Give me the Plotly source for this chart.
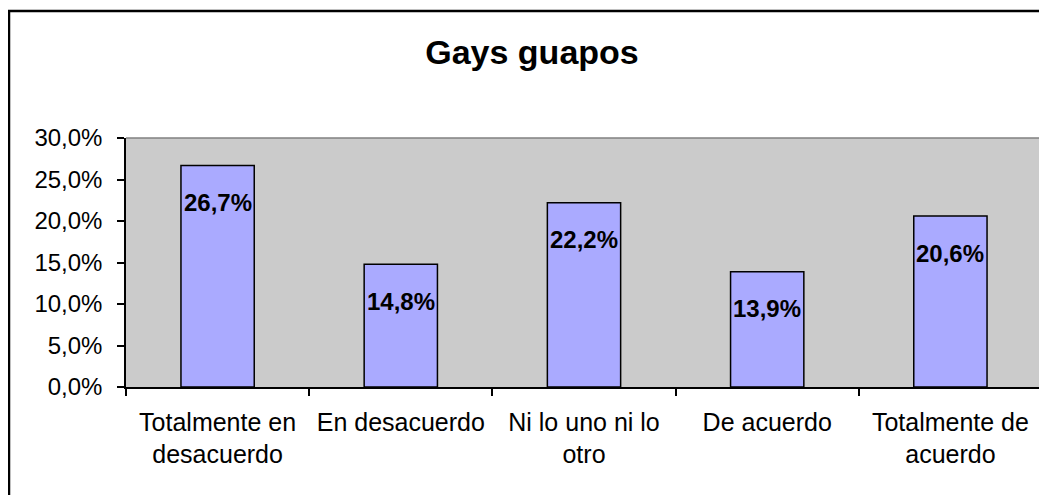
import plotly.graph_objects as go

categories = ["Totalmente en<br>desacuerdo", "En desacuerdo", "Ni lo uno ni lo<br>otro",
              "De acuerdo", "Totalmente de<br>acuerdo"]
values = [0.267, 0.148, 0.222, 0.139, 0.206]
title_text = "Gays guapos"

W, H = 1039, 487  # page body has an 8px default margin

fig = go.Figure()
fig.add_trace(go.Bar(
    x=categories, y=values,
    marker=dict(color="#AAAAFF", line=dict(color="#000000", width=1.5)),
    hoverinfo="skip",
))

for c, v in zip(categories, values):
    fig.add_annotation(
        x=c, y=v, xref="x", yref="y",
        text="<b>" + f"{v*100:.1f}".replace(".", ",") + "%</b>",
        showarrow=False, yshift=-37,
        font=dict(family="Liberation Sans Narrow, Arial Narrow, Liberation Sans", size=24, color="#000000"),
    )

# outer chart border
fig.add_shape(type="rect", xref="paper", yref="paper",
              x0=(1 - 118) / 916, x1=1.03, y0=-0.6, y1=(379 - 3) / 249,
              line=dict(color="#000000", width=2.5), layer="below")

fig.update_layout(
    width=W, height=H,
    margin=dict(l=118, r=5, t=130, b=108),
    paper_bgcolor="#FFFFFF",
    plot_bgcolor="#CBCBCB",
    separators=",.",
    bargap=0.6,
    showlegend=False,
    font=dict(family="Liberation Sans, Arial", color="#000000"),
    title=dict(text="<b>" + title_text + "</b>", x=524 / W, xanchor="center",
               y=1 - 44 / H, yanchor="middle", xref="container", yref="container",
               font=dict(size=34, family="Liberation Sans, Arial", color="#000000")),
    xaxis=dict(
        showline=True, linecolor="#000000", linewidth=1.5, mirror=False,
        ticks="outside", ticklen=7, tickwidth=1.5, tickcolor="#000000",
        tickson="boundaries", showgrid=False, ticklabelstandoff=12,
        tickfont=dict(size=25, family="Liberation Sans, Arial", color="#000000"),
    ),
    yaxis=dict(
        range=[0, 0.30], dtick=0.05, tickformat=".1%",
        showline=True, linecolor="#000000", linewidth=1.5,
        ticks="outside", ticklen=7, tickwidth=1.5, tickcolor="#000000",
        showgrid=False, zeroline=False, ticklabelstandoff=10,
        tickfont=dict(size=24, family="Liberation Sans, Arial", color="#000000"),
    ),
)

# plot area gray border on top/right
fig.add_shape(type="line", xref="paper", yref="paper", x0=0, x1=1, y0=1, y1=1,
              line=dict(color="#808080", width=1.5))
fig.add_shape(type="line", xref="paper", yref="paper", x0=1, x1=1, y0=0, y1=1,
              line=dict(color="#808080", width=1.5))

fig.write_html("out.html")
